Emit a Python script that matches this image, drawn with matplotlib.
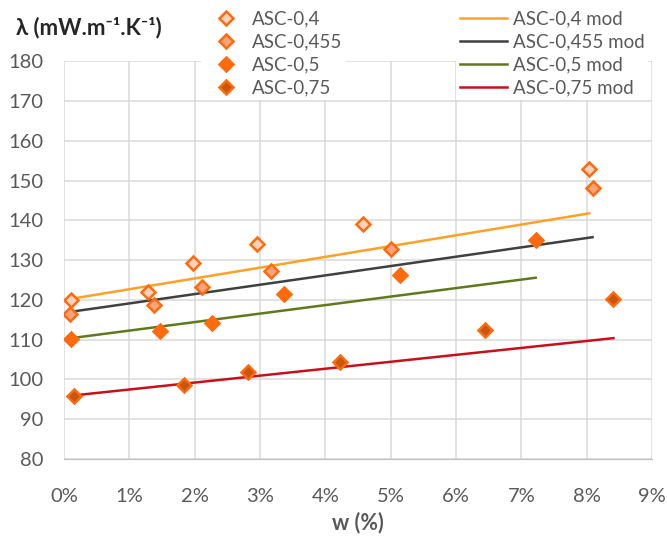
import matplotlib
matplotlib.use('Agg')
import matplotlib.pyplot as plt
from matplotlib.ticker import FuncFormatter

plt.rcParams['font.family'] = ['Lato', 'DejaVu Sans']

# Mesures (w en %, lambda en mW/m.K)
w_04 = [0.11, 1.29, 1.98, 2.96, 4.57, 8.04]
lam_04 = [120.1, 121.9, 129.2, 134.0, 139.1, 152.9]

w_0455 = [0.09, 1.38, 2.11, 3.17, 5.00, 8.09]
lam_0455 = [116.6, 118.7, 123.3, 127.2, 132.9, 148.1]

w_05 = [0.11, 1.47, 2.26, 3.36, 5.15, 7.22]
lam_05 = [110.1, 112.2, 114.3, 121.6, 126.4, 135.0]

w_075 = [0.15, 1.83, 2.82, 4.23, 6.44, 8.41]
lam_075 = [95.8, 98.6, 102.0, 104.3, 112.5, 120.3]

# Droites du modèle (début / fin)
w_04_mod = [0.11, 8.04]
lam_04_mod = [120.3, 141.8]
w_0455_mod = [0.09, 8.09]
lam_0455_mod = [117.0, 135.8]
w_05_mod = [0.11, 7.22]
lam_05_mod = [110.4, 125.6]
w_075_mod = [0.15, 8.41]
lam_075_mod = [96.0, 110.4]

orange = '#FF6A0D'
gris = '#595959'

fig = plt.figure(figsize=(6.67, 5.4), dpi=100)
ax = fig.add_axes([64 / 667, 81 / 540, 588 / 667, 397.5 / 540])

# courbes du modèle
l1, = ax.plot(w_04_mod, lam_04_mod, color='#FFA126', lw=1.8, label='ASC-0,4 mod', zorder=3)
l2, = ax.plot(w_0455_mod, lam_0455_mod, color='#404040', lw=1.8, label='ASC-0,455 mod', zorder=3)
l3, = ax.plot(w_05_mod, lam_05_mod, color='#5F7A1C', lw=1.8, label='ASC-0,5 mod', zorder=3)
l4, = ax.plot(w_075_mod, lam_075_mod, color='#C8101A', lw=1.8, label='ASC-0,75 mod', zorder=3)

# points mesurés
m = dict(marker='D', ls='none', ms=7, mew=1.8, mec=orange, zorder=4)
s1, = ax.plot(w_04, lam_04, mfc='#FBD3BC', label='ASC-0,4', **m)
s2, = ax.plot(w_0455, lam_0455, mfc='#F7A47A', label='ASC-0,455', **m)
s3, = ax.plot(w_05, lam_05, mfc=orange, label='ASC-0,5', **m)
s4, = ax.plot(w_075, lam_075, mfc='#C8560E', label='ASC-0,75', **m)

ax.set_xlim(0, 9)
ax.set_ylim(80, 180)
ax.set_xticks(range(0, 10))
ax.set_yticks(range(80, 181, 10))
ax.xaxis.set_major_formatter(FuncFormatter(lambda v, p: '%d%%' % v))
ax.grid(True, color='#D9D9D9', lw=1.1)
ax.set_axisbelow(True)
for sp in ax.spines.values():
    sp.set_visible(False)
ax.spines['bottom'].set_visible(True)
ax.spines['bottom'].set_color('#BFBFBF')
ax.tick_params(length=0, labelsize=14.5, labelcolor=gris)
ax.tick_params(axis='x', pad=21)
ax.tick_params(axis='y', pad=15)

ax.set_xlabel('w (%)', fontsize=15.5, fontweight='bold', color=gris, labelpad=5)
fig.text(16 / 667, 1 - 28 / 540, 'λ (mW.m⁻¹.K⁻¹)', fontsize=16, fontweight='bold',
         color='#262626', va='center', ha='left')

leg1 = fig.legend(handles=[s1, s2, s3, s4], loc='upper left', bbox_to_anchor=(192 / 667, 1.005),
                  fontsize=13.5, frameon=True, facecolor='white', edgecolor='none', framealpha=1,
                  handlelength=2.2, handletextpad=0.3, labelspacing=0.32, borderpad=0.2,
                  labelcolor=gris, fancybox=False)
leg2 = fig.legend(handles=[l1, l2, l3, l4], loc='upper left', bbox_to_anchor=(447 / 667, 1.005),
                  fontsize=13.5, frameon=True, facecolor='white', edgecolor='none', framealpha=1,
                  handlelength=2.5, handletextpad=0.3, labelspacing=0.32, borderpad=0.2,
                  labelcolor=gris, fancybox=False)
fig.add_artist(leg1)

plt.savefig('out.png', dpi=100)
